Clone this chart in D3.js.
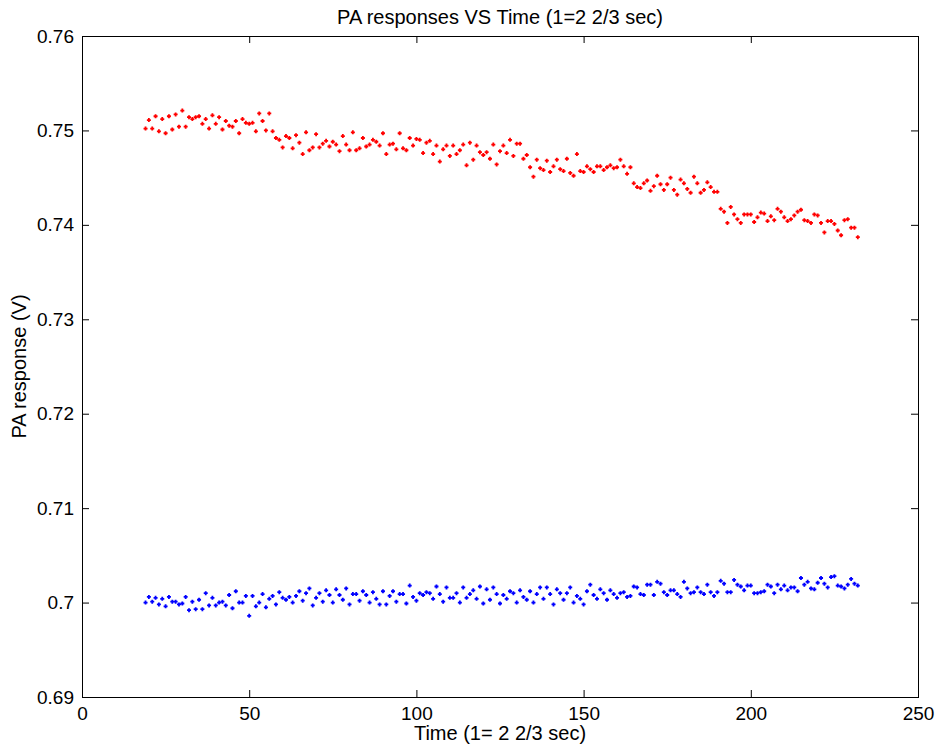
<!DOCTYPE html>
<html>
<head>
<meta charset="utf-8">
<script src="https://cdn.jsdelivr.net/npm/d3@7"></script>
<style>
    body { margin: 0; background: #fff; }
    text { font-family: "Liberation Sans", Arial, sans-serif; }
</style>
</head>
<body>
<svg id="chart" width="937" height="750"></svg>
<script>
// Time samples (1 = 2 2/3 sec)
const timeStart = 19;
const timeEnd = 232;
const time = d3.range(timeStart, timeEnd + 1);

// Upper series (red)
const redValues = [
    0.7502, 0.7511, 0.7502, 0.7515, 0.7499, 0.7512, 0.7497, 0.7515, 0.7501, 0.7517,
    0.7504, 0.7521, 0.7504, 0.7514, 0.7512, 0.7514, 0.7515, 0.7507, 0.7512, 0.7502,
    0.7516, 0.7507, 0.7514, 0.7501, 0.7510, 0.7505, 0.7504, 0.7510, 0.7497, 0.7512,
    0.7508, 0.7507, 0.7508, 0.7499, 0.7518, 0.7510, 0.7500, 0.7518, 0.7499, 0.7492,
    0.7490, 0.7482, 0.7494, 0.7492, 0.7481, 0.7495, 0.7487, 0.7475, 0.7498, 0.7479,
    0.7482, 0.7496, 0.7482, 0.7486, 0.7489, 0.7483,
    0.7488, 0.7485, 0.7478, 0.7494, 0.7485, 0.7479, 0.7498, 0.7479, 0.7481, 0.7492,
    0.7483, 0.7485, 0.7490, 0.7488, 0.7484, 0.7497, 0.7475, 0.7485, 0.7486, 0.7480,
    0.7497, 0.7481, 0.7479, 0.7492, 0.7484, 0.7491, 0.7490, 0.7476, 0.7487, 0.7489,
    0.7475, 0.7484, 0.7467, 0.7480, 0.7484, 0.7473, 0.7484, 0.7475, 0.7479, 0.7485,
    0.7463, 0.7487, 0.7469, 0.7484, 0.7477, 0.7474, 0.7477, 0.7470, 0.7485, 0.7464,
    0.7478, 0.7484, 0.7476, 0.7490, 0.7473, 0.7486, 0.7486,
    0.7470, 0.7474, 0.7461, 0.7451, 0.7469, 0.7460, 0.7458, 0.7468, 0.7456, 0.7462,
    0.7469, 0.7459, 0.7457, 0.7470, 0.7455, 0.7452, 0.7475, 0.7457, 0.7456, 0.7462,
    0.7459, 0.7456, 0.7462, 0.7462, 0.7458, 0.7461, 0.7463, 0.7460, 0.7461, 0.7469,
    0.7462, 0.7454, 0.7461, 0.7444, 0.7440, 0.7439, 0.7444, 0.7447, 0.7436, 0.7441,
    0.7452, 0.7443, 0.7437, 0.7443, 0.7450, 0.7437, 0.7432, 0.7448, 0.7444, 0.7438,
    0.7434, 0.7451, 0.7444, 0.7434, 0.7437, 0.7445,
    0.7440, 0.7435, 0.7435, 0.7417, 0.7414, 0.7402, 0.7419, 0.7411, 0.7406, 0.7402,
    0.7411, 0.7411, 0.7411, 0.7403, 0.7408, 0.7413, 0.7412, 0.7404, 0.7409, 0.7405,
    0.7417, 0.7414, 0.7408, 0.7404, 0.7406, 0.7410, 0.7414, 0.7416, 0.7405, 0.7404,
    0.7402, 0.7411, 0.7410, 0.7402, 0.7392, 0.7404, 0.7404, 0.7401, 0.7394, 0.7389,
    0.7405, 0.7406, 0.7397, 0.7397, 0.7387
];

// Lower series (blue)
const blueValues = [
    0.7000, 0.7006, 0.7001, 0.7005, 0.6998, 0.7004, 0.6996, 0.7006, 0.7001, 0.7001,
    0.6998, 0.6999, 0.7006, 0.6992, 0.7001, 0.6993, 0.7003, 0.6993, 0.7010, 0.6997,
    0.7005, 0.6997, 0.7000, 0.7001, 0.6997, 0.7008, 0.6994, 0.7012, 0.7000, 0.7000,
    0.7007, 0.6986, 0.7007, 0.6996, 0.7000, 0.7009, 0.6995, 0.7004, 0.7007, 0.6998,
    0.7011, 0.7005, 0.7003, 0.7006, 0.7000, 0.7007, 0.7012, 0.7002, 0.7010, 0.7015,
    0.6997, 0.7005, 0.7010, 0.7001, 0.7013, 0.7008, 0.7000, 0.7014, 0.7008, 0.7003,
    0.7015, 0.6998, 0.7009, 0.7009, 0.7002, 0.7012, 0.7008, 0.7000, 0.7011, 0.7004,
    0.6998,
    0.7012, 0.6998, 0.7007, 0.7012, 0.7001, 0.7009, 0.7009, 0.6999, 0.7018, 0.7006,
    0.7002, 0.7010, 0.7008, 0.7011, 0.7010, 0.7004, 0.7017, 0.7009, 0.7001, 0.7016,
    0.7005, 0.7005, 0.7010, 0.7000, 0.7016, 0.7005, 0.7009, 0.7013, 0.7004, 0.7017,
    0.6999, 0.7014, 0.7003, 0.7016, 0.7009, 0.6999, 0.7008, 0.7004, 0.7012, 0.7010,
    0.7000, 0.7013, 0.7006, 0.7003, 0.7012, 0.7000, 0.7009, 0.7016, 0.7004, 0.7016,
    0.7009, 0.6998, 0.7014, 0.7010, 0.7003, 0.7010, 0.7016, 0.7000, 0.7007, 0.7004,
    0.6998, 0.7012, 0.7019, 0.7008, 0.7004, 0.7014, 0.7010, 0.7003, 0.7013, 0.7009,
    0.7005, 0.7010,
    0.7011, 0.7006, 0.7007, 0.7017, 0.7016, 0.7009, 0.7008, 0.7019, 0.7019, 0.7008,
    0.7022, 0.7020, 0.7011, 0.7008, 0.7013, 0.7013, 0.7009, 0.7006, 0.7022, 0.7015,
    0.7010, 0.7011, 0.7016, 0.7011, 0.7009, 0.7019, 0.7011, 0.7007, 0.7011, 0.7023,
    0.7020, 0.7011, 0.7011, 0.7024, 0.7019, 0.7017, 0.7013, 0.7018, 0.7018, 0.7010,
    0.7010, 0.7011, 0.7012, 0.7019, 0.7017, 0.7010, 0.7019, 0.7014, 0.7018, 0.7013,
    0.7016, 0.7016, 0.7012, 0.7026, 0.7019, 0.7022, 0.7015, 0.7014, 0.7021, 0.7026,
    0.7020, 0.7016, 0.7027, 0.7028, 0.7018, 0.7017, 0.7015, 0.7019, 0.7025, 0.7020,
    0.7018
];

// Axis ticks
const xTicks = [0, 50, 100, 150, 200, 250];
const yTicks = [0.69, 0.70, 0.71, 0.72, 0.73, 0.74, 0.75, 0.76];
const yTickLabels = ['0.69', '0.7', '0.71', '0.72', '0.73', '0.74', '0.75', '0.76'];

const titleText = 'PA responses VS Time (1=2 2/3 sec)';
const xLabelText = 'Time (1= 2 2/3 sec)';
const yLabelText = 'PA response (V)';

/**
 * Draw the scatter chart
 */
function drawChart() {
    const width = 937;
    const height = 750;
    const margin = { top: 36, right: 19, bottom: 53, left: 82 };
    const innerW = width - margin.left - margin.right;
    const innerH = height - margin.top - margin.bottom;

    const svg = d3.select('#chart');

    const x = d3.scaleLinear().domain([0, 250]).range([margin.left, margin.left + innerW]);
    const y = d3.scaleLinear().domain([0.69, 0.76]).range([margin.top + innerH, margin.top]);

    // Axes (ticks point inward, MATLAB style)
    const tickLen = 7;
    const tickFont = 19;
    const labelFont = 20;

    const xBottom = svg.append('g')
        .attr('transform', `translate(0,${margin.top + innerH})`)
        .call(d3.axisBottom(x).tickValues(xTicks).tickSizeInner(-tickLen).tickSizeOuter(0).tickPadding(10));
    const xTop = svg.append('g')
        .attr('transform', `translate(0,${margin.top})`)
        .call(d3.axisTop(x).tickValues(xTicks).tickSizeInner(-tickLen).tickSizeOuter(0).tickFormat(''));
    const yLeft = svg.append('g')
        .attr('transform', `translate(${margin.left},0)`)
        .call(d3.axisLeft(y).tickValues(yTicks).tickSizeInner(-tickLen).tickSizeOuter(0).tickPadding(8)
            .tickFormat((d, i) => yTickLabels[i]));
    const yRight = svg.append('g')
        .attr('transform', `translate(${margin.left + innerW},0)`)
        .call(d3.axisRight(y).tickValues(yTicks).tickSizeInner(-tickLen).tickSizeOuter(0).tickFormat(''));

    [xBottom, xTop, yLeft, yRight].forEach(g => {
        g.select('.domain').remove();
        g.selectAll('line').attr('stroke', '#000').attr('stroke-width', 1);
        g.selectAll('text').style('font-size', tickFont + 'px').attr('fill', '#000');
    });

    // Frame
    svg.append('rect')
        .attr('x', margin.left + 0.5)
        .attr('y', margin.top + 0.5)
        .attr('width', innerW)
        .attr('height', innerH)
        .attr('fill', 'none')
        .attr('stroke', '#000')
        .attr('stroke-width', 1);

    // Point markers
    const marker = 'M-2,0H2M0,-2V2';
    const series = [
        { values: redValues, color: '#ff0000' },
        { values: blueValues, color: '#0000ff' }
    ];

    series.forEach(s => {
        svg.append('g')
            .selectAll('path')
            .data(s.values)
            .enter()
            .append('path')
            .attr('d', marker)
            .attr('transform', (d, i) => `translate(${x(time[i])},${y(d)})`)
            .attr('stroke', s.color)
            .attr('stroke-width', 1.8)
            .attr('fill', 'none');
    });

    // Title and labels
    svg.append('text')
        .attr('x', margin.left + innerW / 2)
        .attr('y', 24)
        .attr('text-anchor', 'middle')
        .style('font-size', labelFont + 'px')
        .text(titleText);

    svg.append('text')
        .attr('x', margin.left + innerW / 2)
        .attr('y', 740)
        .attr('text-anchor', 'middle')
        .style('font-size', labelFont + 'px')
        .text(xLabelText);

    svg.append('text')
        .attr('transform', `translate(26,${margin.top + innerH / 2}) rotate(-90)`)
        .attr('text-anchor', 'middle')
        .style('font-size', labelFont + 'px')
        .text(yLabelText);
}

drawChart();
</script>
</body>
</html>
